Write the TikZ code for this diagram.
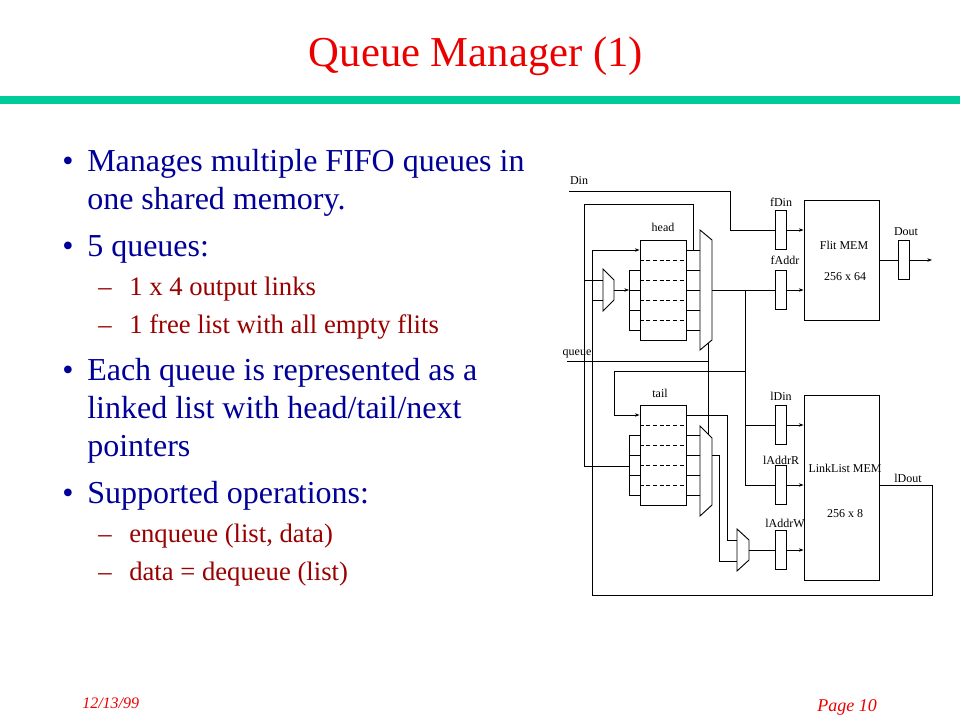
\documentclass[tikz,border=0pt]{standalone}
\usepackage{fontspec}
\setmainfont{Liberation Serif}
\usetikzlibrary{arrows.meta,calc}

\definecolor{titlered}{RGB}{235,0,0}
\definecolor{bulletblue}{RGB}{0,0,153}
\definecolor{subred}{RGB}{153,0,0}
\definecolor{rulegreen}{RGB}{0,204,153}

\begin{document}
\begin{tikzpicture}[x=0.75pt,y=-0.75pt,>={Stealth[length=3.5pt,width=2.6pt]},
  wire/.style={line width=0.7pt},
  reg/.style={draw,line width=0.7pt,minimum width=8.25pt,minimum height=29.25pt,inner sep=0pt},
  mem/.style={draw,line width=0.7pt,minimum width=56.25pt,inner sep=0pt},
  qreg/.style={draw,line width=0.7pt,minimum width=34.5pt,minimum height=75pt,inner sep=0pt},
  lbl/.style={font=\fontsize{9}{10}\selectfont,inner sep=0pt,anchor=base},
  bulline/.style={font=\fontsize{24}{28}\selectfont,text=bulletblue,inner sep=0pt,anchor=base west},
  subline/.style={font=\fontsize{20}{24}\selectfont,text=subred,inner sep=0pt,anchor=base west}]
\fill[white] (0,0) rectangle (960,720);

% Title and rule
\node[font=\fontsize{32}{38}\selectfont,text=titlered,inner sep=0pt,anchor=base] (title) at (476,67) {Queue Manager (1)};
\fill[rulegreen] (0,96) rectangle (960,104);

% Bullets
\foreach \y in {172,257,380,503} \node[bulline] at (62,\y) {\textbullet};
\foreach \y in {296,333,542,580} \node[subline] at (98,\y) {–};
\node[bulline] (b1) at (87,172) {Manages multiple FIFO queues in};
\node[bulline] (b1b) at (87,210) {one shared memory.};
\node[bulline] (b2) at (87,257) {5 queues:};
\node[subline] (s1) at (129,296) {1 x 4 output links};
\node[subline] (s2) at (129,333) {1 free list with all empty flits};
\node[bulline] (b3) at (87,380) {Each queue is represented as a};
\node[bulline] (b3b) at (87,418) {linked list with head/tail/next};
\node[bulline] (b3c) at (87,456) {pointers};
\node[bulline] (b4) at (87,503) {Supported operations:};
\node[subline] (s3) at (129,542) {enqueue (list, data)};
\node[subline] (s4) at (129,580) {data = dequeue (list)};

% Footer
\node[font=\fontsize{12}{14}\selectfont\itshape,text=titlered,inner sep=0pt,anchor=base west] (date) at (82,708) {12/13/99};
\node[font=\fontsize{13.5}{16}\selectfont\itshape,text=titlered,inner sep=0pt,anchor=base east] (page) at (877,711) {Page 10};

% Memories and registers
\node[mem,minimum height=90pt] (flit) at (841.5,260) {};
\node[mem,minimum height=138.75pt] (linklist) at (841.5,487.5) {};
\node[lbl] (flitname) at (844,250) {Flit MEM};
\node[lbl] (flitsize) at (845,281) {256 x 64};
\node[lbl] (llname) at (845,472) {LinkList MEM};
\node[lbl] (llsize) at (845,517) {256 x 8};
\node[reg] (fDin) at (780.5,230) {};
\node[reg] (fAddr) at (780.5,290) {};
\node[reg] (lDin) at (780.5,425) {};
\node[reg] (lAddrR) at (780.5,485) {};
\node[reg] (lAddrW) at (780.5,550) {};
\node[reg] (dout) at (903.5,260) {};
\node[lbl] at (781,207) {fDin};
\node[lbl] at (785,265) {fAddr};
\node[lbl] at (781,400) {lDin};
\node[lbl] at (781,464) {lAddrR};
\node[lbl] at (785,527) {lAddrW};
\node[lbl] at (906,236) {Dout};
\node[lbl] at (908,482) {lDout};

% Queue pointer registers
\node[qreg] (head) at (663,290) {};
\node[qreg] (tail) at (663,455) {};
\node[lbl] (headlbl) at (663,232) {head};
\node[lbl] (taillbl) at (660,397) {tail};
\foreach \y in {260,280,300,320} \draw[wire,dash pattern=on 3pt off 2pt] (head.west |- 0,\y) -- (head.east |- 0,\y);
\foreach \y in {425,445,465,485} \draw[wire,dash pattern=on 3pt off 2pt] (tail.west |- 0,\y) -- (tail.east |- 0,\y);

% Muxes
\coordinate (hmux) at (700,230);
\coordinate (tmux) at (700,426);
\coordinate (imux) at (603,269);
\coordinate (amux) at (737,529);
\draw[wire] (hmux) -- ++(12,10) -- ++(0,100) -- ++(-12,10) -- cycle;
\draw[wire] (tmux) -- ++(12,12) -- ++(0,67) -- ++(-12,11) -- cycle;
\draw[wire] (imux) -- ++(11,11) -- ++(0,20) -- ++(-11,11) -- cycle;
\draw[wire] (amux) -- ++(12,11) -- ++(0,20) -- ++(-12,11) -- cycle;
\coordinate (hmuxout) at (712,290);
\coordinate (tmuxout) at (712,455);
\coordinate (imuxout) at (614,290);
\coordinate (amuxout) at (749,550);

% Register file stubs
\foreach \y in {250,270,290,310,330} \draw[wire] (head.east |- 0,\y) -- (hmux |- 0,\y);
\foreach \y in {435,455,475,495} \draw[wire] (tail.east |- 0,\y) -- (tmux |- 0,\y);
\draw[wire] (629,270) -- (629,330);
\foreach \y in {270,290,310,330} \draw[wire] (629,\y) -- (head.west |- 0,\y);
\draw[wire] (629,435) -- (629,495);
\foreach \y in {435,455,475,495} \draw[wire] (629,\y) -- (tail.west |- 0,\y);
\draw[wire,->] (imuxout) -- (629,290);

% Din and Flit MEM
\coordinate (din) at (569,191);
\node[lbl] (dinlbl) at (579,185) {Din};
\draw[wire] (din) -- (730,191) |- (fDin.west);
\draw[wire,->] (fDin.east) -- (flit.west |- fDin.east);
\draw[wire] (hmuxout) -- (fAddr.west);
\draw[wire,->] (fAddr.east) -- (flit.west |- fAddr.east);
\coordinate (doutend) at (932,260);
\draw[wire] (flit.east |- dout.west) -- (dout.west);
\draw[wire,->] (dout.east) -- (doutend);

% Free pointer to link list
\coordinate (jf) at (745,290);
\draw[wire] (jf) |- (lAddrR.west);
\draw[wire] (jf |- lDin.west) -- (lDin.west);
\draw[wire,->] (jf |- 0,371) -- (614,371) -- (614,415) -- (tail.west |- 0,415);
\draw[wire,->] (lDin.east) -- (linklist.west |- lDin.east);
\draw[wire,->] (lAddrR.east) -- (linklist.west |- lAddrR.east);
\draw[wire,->] (lAddrW.east) -- (linklist.west |- lAddrW.east);

% lDout loop back to head
\draw[wire,->] (linklist.east |- lAddrR.east) -- (932,485) -- (932,595) -- (592,595) -- (592,250) -- (head.west |- 0,250);
\draw[wire] (592,300) -- (imux |- 0,300);
\draw[wire] (693,250) -- (693,204) -- (584,204) -- (584,466) -- (629,466);
\draw[wire] (584,280) -- (imux |- 0,280);

% Queue select
\node[lbl] (queuelbl) at (577,355) {queue};
\draw[wire] (567,361) -- (708,361);
\draw[wire] (708,343) -- (708,434);

% Tail to write address mux
\draw[wire] (tail.east |- 0,415) -- (727,415) -- (727,540) -- (amux |- 0,540);
\draw[wire] (tmuxout) -- (719,455) -- (719,561) -- (amux |- 0,561);
\draw[wire] (amuxout) -- (lAddrW.west);
\end{tikzpicture}
\end{document}
